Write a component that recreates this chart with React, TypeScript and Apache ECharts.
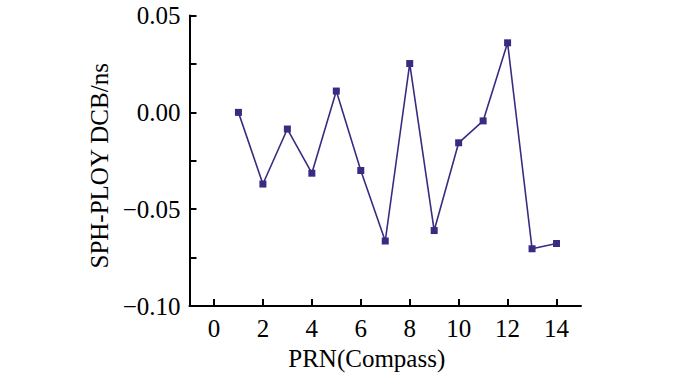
import React, { useEffect, useRef } from "react";
import * as echarts from "echarts";

const prn = [1, 2, 3, 4, 5, 6, 7, 8, 9, 10, 11, 12, 13, 14];
const dcb = [0.0, -0.037, -0.0086, -0.0314, 0.011, -0.03, -0.0664, 0.0252, -0.061, -0.0157, -0.0044, 0.0359, -0.0704, -0.0677];
const xTickValues = [0, 2, 4, 6, 8, 10, 12, 14];
const yTickValues = [-0.1, -0.075, -0.05, -0.025, 0, 0.025, 0.05];
const yLabelValues = [-0.1, -0.05, 0, 0.05];

const FONT = "Liberation Serif";
const COLOR = "#3b2a82";
const FS = 25;

export default function App() {
  const ref = useRef<HTMLDivElement>(null);
  useEffect(() => {
    if (!ref.current) return;
    const chart = echarts.init(ref.current, undefined, { renderer: "svg" });
    chart.setOption({
      animation: false,
      grid: { left: 189.5, right: 119, top: 15.5, bottom: 64.7, containLabel: false },
      xAxis: {
        type: "value",
        min: -1,
        max: 15,
        interval: 1,
        name: "PRN(Compass)",
        nameLocation: "middle",
        nameGap: 30,
        nameTextStyle: { fontFamily: FONT, fontSize: FS, color: "#000", padding: [0, 37, 0, 0] },
        axisLine: { show: true, onZero: false, lineStyle: { color: "#000", width: 2 } },
        axisTick: { show: true, inside: true, length: 7, customValues: xTickValues, lineStyle: { color: "#000", width: 2 } },
        axisLabel: { customValues: xTickValues, fontFamily: FONT, fontSize: FS, color: "#000", margin: 10 },
        splitLine: { show: false },
      },
      yAxis: {
        type: "value",
        min: -0.1,
        max: 0.05,
        interval: 0.025,
        name: "SPH-PLOY DCB/ns",
        nameLocation: "middle",
        nameGap: 66,
        nameTextStyle: { fontFamily: FONT, fontSize: FS, color: "#000", padding: [0, 10, 0, 0] },
        axisLine: { show: true, onZero: false, lineStyle: { color: "#000", width: 2 } },
        axisTick: { show: true, inside: true, length: 7, customValues: yTickValues, lineStyle: { color: "#000", width: 2 } },
        axisLabel: {
          customValues: yLabelValues,
          fontFamily: FONT,
          fontSize: FS,
          color: "#000",
          margin: 9,
          padding: [8, 0, 0, 0],
          formatter: (v: number) => v.toFixed(2).replace("-", "\u2212"),
        },
        splitLine: { show: false },
      },
      series: [
        {
          type: "line",
          data: prn.map((x, i) => [x, dcb[i]]),
          symbol: "rect",
          symbolSize: 7,
          itemStyle: { color: COLOR },
          lineStyle: { color: COLOR, width: 1.6 },
        },
      ],
    });
    return () => chart.dispose();
  }, []);
  return <div ref={ref} style={{ width: 700, height: 376, position: "absolute", left: 0, top: 0 }} />;
}
